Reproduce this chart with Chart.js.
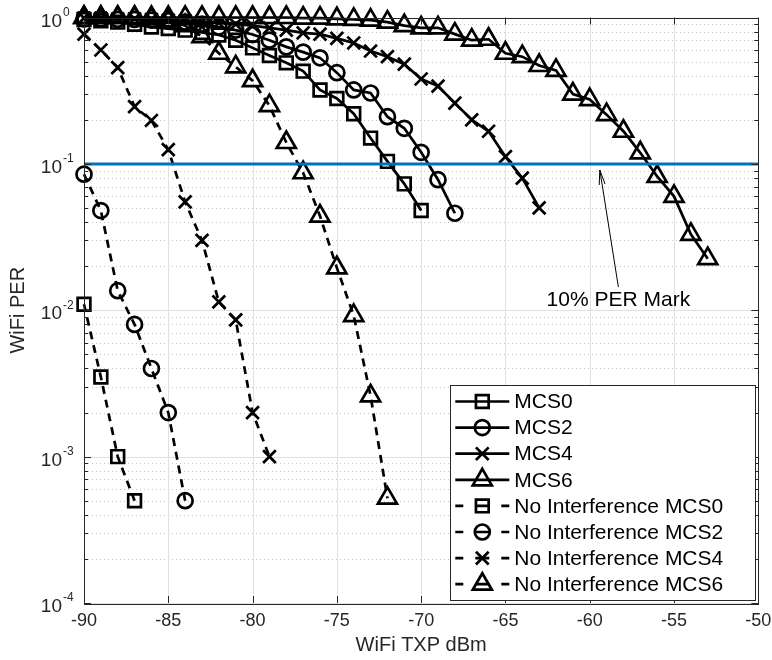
<!DOCTYPE html>
<html>
<head>
<meta charset="utf-8">
<script src="https://cdn.jsdelivr.net/npm/chart.js@4.4.1/dist/chart.umd.min.js"></script>
<style>
  html, body { margin: 0; padding: 0; background: #fff; }
  #wrap { width: 772px; height: 660px; }
</style>
</head>
<body>
<div id="wrap"><canvas id="per-chart" width="772" height="660"></canvas></div>
<script>
// x ticks (dBm) and y decades
const xTicks = [-90, -85, -80, -75, -70, -65, -60, -55, -50];
const yDecades = [-4, -3, -2, -1, 0];

// with interference
const mcs0X = [-90,-89,-88,-87,-86,-85,-84,-83,-82,-81,-80,-79,-78,-77,-76,-75,-74,-73,-72,-71,-70];
const mcs0Y = [0.97,0.95,0.93,0.90,0.86,0.84,0.82,0.79,0.76,0.70,0.62,0.55,0.49,0.43,0.32,0.28,0.22,0.15,0.104,0.073,0.048];

const mcs2X = [-90,-89,-88,-87,-86,-85,-84,-83,-82,-81,-80,-79,-78,-77,-76,-75,-74,-73,-72,-71,-70,-69,-68];
const mcs2Y = [0.98,0.98,0.97,0.97,0.96,0.95,0.93,0.90,0.86,0.82,0.765,0.70,0.63,0.58,0.53,0.42,0.32,0.305,0.21,0.175,0.12,0.078,0.046];

const mcs4X = [-90,-89,-88,-87,-86,-85,-84,-83,-82,-81,-80,-79,-78,-77,-76,-75,-74,-73,-72,-71,-70,-69,-68,-67,-66,-65,-64,-63];
const mcs4Y = [0.99,0.99,0.98,0.98,0.97,0.96,0.95,0.94,0.92,0.90,0.88,0.85,0.82,0.785,0.77,0.72,0.67,0.59,0.54,0.48,0.38,0.34,0.26,0.20,0.167,0.112,0.080,0.050];

const mcs6X = [-90,-89,-88,-87,-86,-85,-84,-83,-82,-81,-80,-79,-78,-77,-76,-75,-74,-73,-72,-71,-70,-69,-68,-67,-66,-65,-64,-63,-62,-61,-60,-59,-58,-57,-56,-55,-54,-53];
const mcs6Y = [1,1,1,1,1,1,1,1,1,1,1,1,1,0.99,0.99,0.98,0.97,0.96,0.93,0.88,0.85,0.85,0.77,0.70,0.71,0.57,0.54,0.47,0.435,0.30,0.275,0.217,0.167,0.119,0.082,0.060,0.033,0.0225];

// no interference
const niMcs0X = [-90,-89,-88,-87];
const niMcs0Y = [0.011,0.0035,0.001,0.0005];

const niMcs2X = [-90,-89,-88,-87,-86,-85,-84];
const niMcs2Y = [0.085,0.048,0.0136,0.008,0.004,0.002,0.0005];

const niMcs4X = [-90,-89,-88,-87,-86,-85,-84,-83,-82,-81,-80,-79];
const niMcs4Y = [0.77,0.60,0.455,0.246,0.198,0.125,0.055,0.030,0.0114,0.0086,0.002,0.001];

const niMcs6X = [-90,-89,-88,-87,-86,-85,-84,-83,-82,-81,-80,-79,-78,-77,-76,-75,-74,-73,-72];
const niMcs6Y = [1,1,1,1,0.98,0.95,0.88,0.74,0.57,0.46,0.37,0.25,0.14,0.087,0.044,0.0195,0.0092,0.0026,0.00052];

// 10% PER mark
const perX = [-90, -50];
const perY = [0.1, 0.1];

const FONT = "'Liberation Sans', Arial, Helvetica, sans-serif";
const AXIS_COLOR = '#262626';

// marker radius per style
const markerSize = { rect: 9, circle: 7.5, crossRot: 9, triangle: 11 };

function series(label, xs, ys, style, dashed) {
  return {
    label,
    data: xs.map((x, i) => ({ x, y: ys[i] })),
    borderColor: '#000',
    borderWidth: 2.7,
    borderDash: dashed ? [8, 6] : [],
    pointStyle: style,
    pointRadius: markerSize[style],
    pointBorderWidth: 2.7,
    pointBorderColor: '#000',
    pointBackgroundColor: 'rgba(0,0,0,0)',
    fill: false,
    tension: 0,
    clip: false,
    order: 2,
    dashedLegend: dashed
  };
}

const datasets = [
  series('MCS0', mcs0X, mcs0Y, 'rect', false),
  series('MCS2', mcs2X, mcs2Y, 'circle', false),
  series('MCS4', mcs4X, mcs4Y, 'crossRot', false),
  series('MCS6', mcs6X, mcs6Y, 'triangle', false),
  series('No Interference MCS0', niMcs0X, niMcs0Y, 'rect', true),
  series('No Interference MCS2', niMcs2X, niMcs2Y, 'circle', true),
  series('No Interference MCS4', niMcs4X, niMcs4Y, 'crossRot', true),
  series('No Interference MCS6', niMcs6X, niMcs6Y, 'triangle', true),
  {
    label: 'per',
    data: perX.map((x, i) => ({ x, y: perY[i] })),
    borderColor: '#0072BD',
    borderWidth: 3,
    pointRadius: 0,
    fill: false,
    order: 0,
    noLegend: true
  }
];

// own marker drawing for the legend
function marker(ctx, style, x, y, r) {
  ctx.beginPath();
  if (style === 'rect') {
    const s = r * Math.SQRT1_2;
    ctx.rect(x - s, y - s, 2 * s, 2 * s);
  } else if (style === 'circle') {
    ctx.arc(x, y, r, 0, Math.PI * 2);
  } else if (style === 'crossRot') {
    const o = r * Math.SQRT1_2;
    ctx.moveTo(x - o, y - o); ctx.lineTo(x + o, y + o);
    ctx.moveTo(x - o, y + o); ctx.lineTo(x + o, y - o);
  } else if (style === 'triangle') {
    for (let k = 0; k < 3; k++) {
      const a = k * 2 * Math.PI / 3;
      const px = x + Math.sin(a) * r, py = y - Math.cos(a) * r;
      if (k === 0) ctx.moveTo(px, py); else ctx.lineTo(px, py);
    }
    ctx.closePath();
  }
  ctx.stroke();
}

const gridAndFrame = {
  id: 'gridAndFrame',
  beforeDatasetsDraw(chart) {
    const { ctx, chartArea: a, scales: { x, y } } = chart;
    ctx.save();
    ctx.lineWidth = 1;
    // minor y grid, dotted
    ctx.strokeStyle = '#c4c4c4';
    ctx.setLineDash([1, 3]);
    yDecades.slice(0, -1).forEach(d => {
      for (let m = 2; m <= 9; m++) {
        const py = Math.round(y.getPixelForValue(m * Math.pow(10, d))) + 0.5;
        ctx.beginPath(); ctx.moveTo(a.left, py); ctx.lineTo(a.right, py); ctx.stroke();
      }
    });
    // major grid
    ctx.setLineDash([]);
    ctx.strokeStyle = '#e0e0e0';
    yDecades.forEach(d => {
      const py = Math.round(y.getPixelForValue(Math.pow(10, d))) + 0.5;
      ctx.beginPath(); ctx.moveTo(a.left, py); ctx.lineTo(a.right, py); ctx.stroke();
    });
    xTicks.forEach(v => {
      const px = Math.round(x.getPixelForValue(v)) + 0.5;
      ctx.beginPath(); ctx.moveTo(px, a.top); ctx.lineTo(px, a.bottom); ctx.stroke();
    });
    ctx.restore();
  },
  afterDraw(chart) {
    const { ctx, chartArea: a, scales: { x, y } } = chart;
    ctx.save();
    // box
    ctx.strokeStyle = AXIS_COLOR;
    ctx.lineWidth = 1;
    ctx.strokeRect(Math.round(a.left) + 0.5, Math.round(a.top) + 0.5,
                   Math.round(a.right - a.left), Math.round(a.bottom - a.top));
    // inward ticks
    ctx.beginPath();
    xTicks.forEach(v => {
      const px = Math.round(x.getPixelForValue(v)) + 0.5;
      ctx.moveTo(px, a.bottom); ctx.lineTo(px, a.bottom - 7);
      ctx.moveTo(px, a.top); ctx.lineTo(px, a.top + 7);
    });
    yDecades.forEach((d, i) => {
      for (let m = 1; m <= 9; m++) {
        if (i === yDecades.length - 1 && m > 1) break;
        const py = Math.round(y.getPixelForValue(m * Math.pow(10, d))) + 0.5;
        const len = m === 1 ? 7 : 4;
        ctx.moveTo(a.left, py); ctx.lineTo(a.left + len, py);
        ctx.moveTo(a.right, py); ctx.lineTo(a.right - len, py);
      }
    });
    ctx.stroke();

    // y tick labels 10^k
    ctx.fillStyle = AXIS_COLOR;
    yDecades.forEach(d => {
      const py = y.getPixelForValue(Math.pow(10, d));
      ctx.font = '19px ' + FONT;
      ctx.textAlign = 'right';
      ctx.textBaseline = 'middle';
      ctx.fillText('10', a.left - 22, py + 4);
      ctx.font = '12px ' + FONT;
      ctx.textAlign = 'left';
      ctx.fillText(String(d), a.left - 21, py - 5);
    });

    // axis titles
    ctx.font = '20px ' + FONT;
    ctx.textAlign = 'center';
    ctx.textBaseline = 'middle';
    ctx.fillText('WiFi TXP dBm', (a.left + a.right) / 2, 645);
    ctx.save();
    ctx.translate(18, (a.top + a.bottom) / 2);
    ctx.rotate(-Math.PI / 2);
    ctx.fillText('WiFi PER', 0, 0);
    ctx.restore();

    // annotation: arrow + text
    const tipX = x.getPixelForValue(-59.4), tipY = y.getPixelForValue(0.0908);
    const tailX = x.getPixelForValue(-58.3), tailY = y.getPixelForValue(0.0144);
    ctx.strokeStyle = '#000';
    ctx.lineWidth = 1;
    ctx.beginPath(); ctx.moveTo(tailX, tailY); ctx.lineTo(tipX, tipY); ctx.stroke();
    const ang = Math.atan2(tipY - tailY, tipX - tailX);
    const hl = 15, hw = 0.2;
    ctx.beginPath();
    ctx.moveTo(tipX - hl * Math.cos(ang - hw), tipY - hl * Math.sin(ang - hw));
    ctx.lineTo(tipX, tipY);
    ctx.lineTo(tipX - hl * Math.cos(ang + hw), tipY - hl * Math.sin(ang + hw));
    ctx.stroke();
    ctx.fillStyle = '#000';
    ctx.font = '21px ' + FONT;
    ctx.fillText('10% PER Mark', x.getPixelForValue(-58.3), y.getPixelForValue(0.01175));

    // legend
    const lw = 305, lh = 215;
    const lx = a.right - lw - 3, ly = a.bottom - lh - 3;
    ctx.fillStyle = '#fff';
    ctx.fillRect(lx, ly, lw, lh);
    ctx.strokeStyle = AXIS_COLOR;
    ctx.lineWidth = 1;
    ctx.strokeRect(Math.round(lx) + 0.5, Math.round(ly) + 0.5, lw, lh);
    const items = chart.data.datasets.filter(ds => !ds.noLegend);
    items.forEach((ds, i) => {
      const ry = ly + 16.5 + i * 26.1;
      const x0 = lx + 5, x1 = lx + 59, xm = lx + 32;
      ctx.strokeStyle = '#000';
      ctx.lineWidth = 2.7;
      ctx.beginPath();
      if (ds.dashedLegend) {
        ctx.moveTo(x0, ry); ctx.lineTo(x0 + 8, ry);
        ctx.moveTo(xm - 7, ry); ctx.lineTo(xm + 7, ry);
        ctx.moveTo(x1 - 8, ry); ctx.lineTo(x1, ry);
      } else {
        ctx.moveTo(x0, ry); ctx.lineTo(x1, ry);
      }
      ctx.stroke();
      marker(ctx, ds.pointStyle, xm, ry, ds.pointRadius);
      ctx.fillStyle = '#000';
      ctx.font = '21px ' + FONT;
      ctx.textAlign = 'left';
      ctx.textBaseline = 'middle';
      ctx.fillText(ds.label, lx + 64, ry + 1);
    });
    ctx.restore();
  }
};

new Chart(document.getElementById('per-chart').getContext('2d'), {
  type: 'line',
  data: { datasets },
  options: {
    responsive: false,
    devicePixelRatio: 1,
    animation: false,
    layout: { padding: { top: 17.5, right: 12, left: 0, bottom: 0 } },
    plugins: { legend: { display: false }, tooltip: { enabled: false } },
    scales: {
      x: {
        type: 'linear',
        min: -90,
        max: -50,
        afterBuildTicks: scale => { scale.ticks = xTicks.map(v => ({ value: v })); },
        afterFit: scale => { scale.height = 57; scale.paddingLeft = 0; scale.paddingRight = 0; },
        grid: { display: false, drawTicks: false },
        border: { display: false },
        ticks: {
          color: AXIS_COLOR,
          font: { family: FONT, size: 18 },
          padding: 7,
          maxRotation: 0,
          callback: v => String(v)
        }
      },
      y: {
        type: 'logarithmic',
        min: 1e-4,
        max: 1,
        afterFit: scale => { scale.width = 84; scale.paddingTop = 0; scale.paddingBottom = 0; },
        grid: { display: false, drawTicks: false },
        border: { display: false },
        ticks: { display: false }
      }
    }
  },
  plugins: [gridAndFrame]
});
</script>
</body>
</html>
